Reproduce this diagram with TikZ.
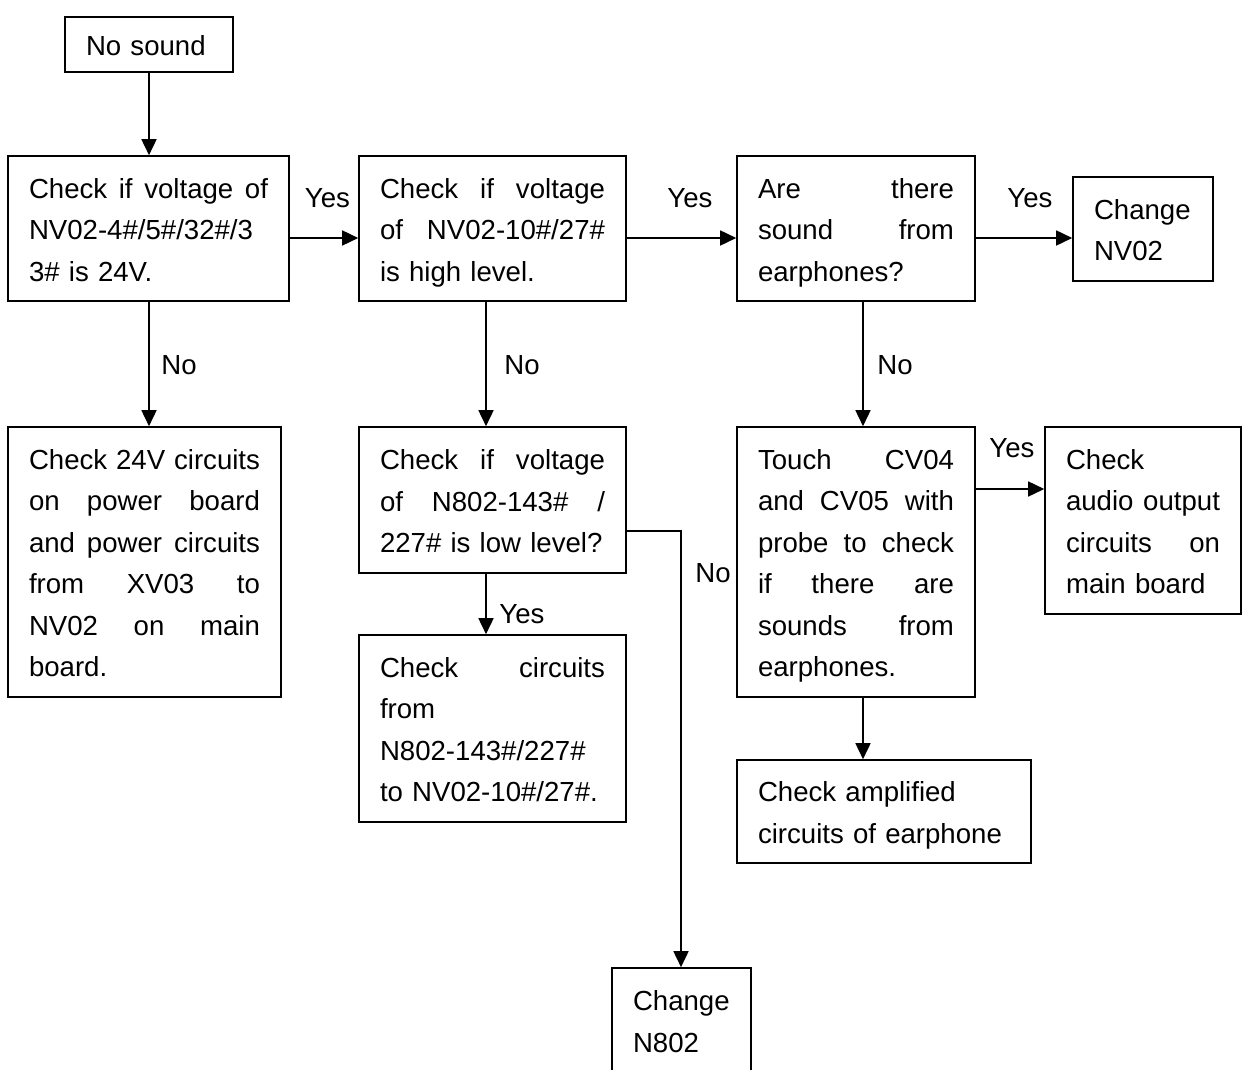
\documentclass[tikz,border=0pt]{standalone}
\usepackage{fontspec}
\setmainfont{Liberation Sans}
\usetikzlibrary{arrows.meta}
\newcommand\jl[1]{{\spaceskip=\fontdimen2\font plus 1fil\relax\makebox[\hsize][s]{#1}}}
\newcommand\bstrut{\rule[-6pt]{0pt}{34pt}}
\begin{document}
\begin{tikzpicture}[x=1pt,y=-1pt,
  box/.style={draw, line width=1.6pt, inner xsep=21pt, inner ysep=0pt, align=left,
    text width=#1, font=\fontsize{27.6}{41.5}\selectfont,
    execute at begin node=\bstrut, execute at end node=\bstrut},
  lbl/.style={inner sep=0pt, font=\fontsize{27.6}{41.5}\selectfont},
  arr/.style={line width=1.6pt, -{Triangle[length=16pt,width=15pt]}}]
\useasboundingbox (0,0) rectangle (1248,1070);
\node[box=126pt, minimum height=55pt] (ns) at (149,44.5) {No sound};
\node[box=239pt, minimum height=145pt] (A) at (148.5,228.5) {\jl{Check if voltage of}\\NV02-4\#/5\#/32\#/3\\3\# is 24V.};
\node[box=225pt, minimum height=145pt] (B) at (492.5,228.5) {\jl{Check if voltage}\\\jl{of NV02-10\#/27\#}\\is high level.};
\node[box=196pt, minimum height=145pt] (C) at (856,228.5) {\jl{Are there}\\\jl{sound from}\\earphones?};
\node[box=98pt, minimum height=104pt] (D) at (1143,229) {Change\\NV02};
\node[box=231pt, minimum height=270pt] (E) at (144.5,562) {\jl{Check 24V circuits}\\\jl{on power board}\\\jl{and power circuits}\\\jl{from XV03 to}\\\jl{NV02 on main}\\board.};
\node[box=225pt, minimum height=146pt] (F) at (492.5,500) {\jl{Check if voltage}\\\jl{of N802-143\# /}\\227\# is low level?};
\node[box=225pt, minimum height=187pt] (G) at (492.5,728.5) {\jl{Check circuits}\\from\\N802-143\#/227\#\\to NV02-10\#/27\#.};
\node[box=196pt, minimum height=270pt] (H) at (856,562) {\jl{Touch CV04}\\\jl{and CV05 with}\\\jl{probe to check}\\\jl{if there are}\\\jl{sounds from}\\earphones.};
\node[box=154pt, minimum height=187pt] (I) at (1143,520.5) {Check\\\jl{audio output}\\\jl{circuits on}\\main board};
\node[box=252pt, minimum height=103pt] (J) at (884,811.5) {Check amplified\\circuits of earphone};
\node[box=97pt, minimum height=105pt] (K) at (681.5,1020.5) {Change\\N802};
\coordinate (xb) at (486,0);
\coordinate (xc) at (863,0);
\coordinate (xk) at (681,0);
\draw[arr] (ns) -- (ns |- A.north);
\draw[arr] (A.east |- 0,238) -- (B.west |- 0,238);
\draw[arr] (B.east |- 0,238) -- (C.west |- 0,238);
\draw[arr] (C.east |- 0,238) -- (D.west |- 0,238);
\draw[arr] (ns.south |- A.south) -- (ns.south |- E.north);
\draw[arr] (xb |- B.south) -- (xb |- F.north);
\draw[arr] (xc |- C.south) -- (xc |- H.north);
\draw[arr] (xb |- F.south) -- (xb |- G.north);
\draw[arr] (F.east |- 0,531) -| (xk |- K.north);
\draw[arr] (H.east |- 0,489) -- (I.west |- 0,489);
\draw[arr] (xc |- H.south) -- (xc |- J.north);
\node[lbl] (y1) at (327.5,198) {Yes};
\node[lbl] (y2) at (690,198) {Yes};
\node[lbl] (y3) at (1030,198) {Yes};
\node[lbl] (n1) at (179,365) {No};
\node[lbl] (n2) at (522,365) {No};
\node[lbl] (n3) at (895,365) {No};
\node[lbl] (y4) at (522,614) {Yes};
\node[lbl] (n4) at (713,573) {No};
\node[lbl] (y5) at (1012,448) {Yes};
\end{tikzpicture}
\end{document}
